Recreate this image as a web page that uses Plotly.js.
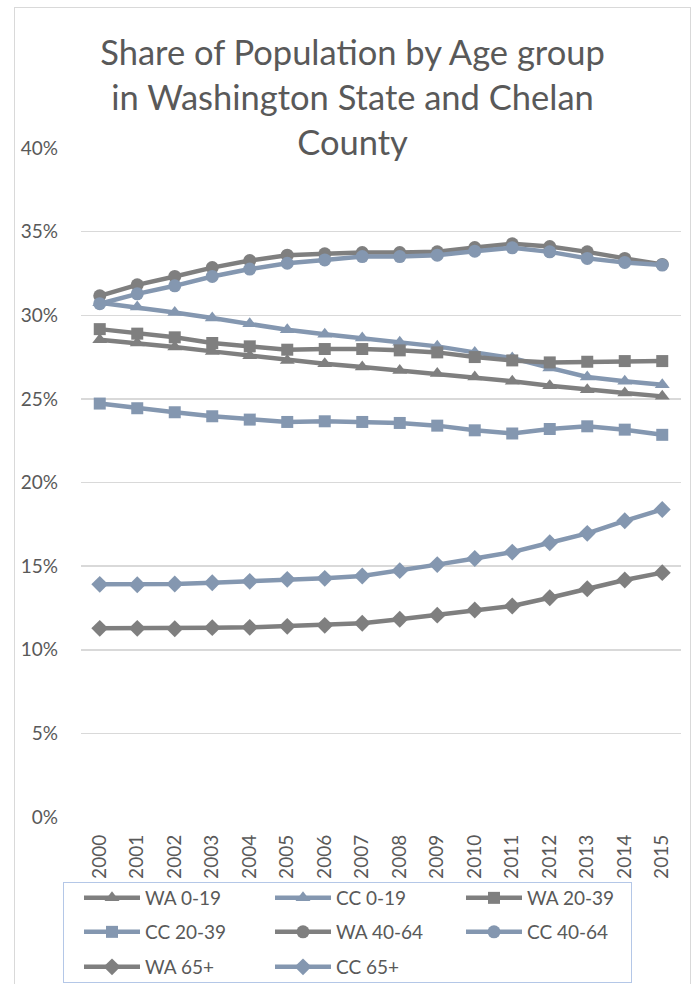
<!DOCTYPE html>
<html>
<head>
<meta charset="utf-8">
<script src="https://cdn.plot.ly/plotly-3.0.1.min.js"></script>
<style>
  html, body { margin: 0; padding: 0; background: #fff; }
  #wrap { position: relative; width: 694px; height: 984px; overflow: hidden; }
  #chart { width: 694px; height: 984px; }
  #frame { position: absolute; left: 14px; top: 7px; width: 677px; height: 1000px;
           border: 1.5px solid #d9d9d9; pointer-events: none; box-sizing: border-box; }
  #legbox { position: absolute; left: 63px; top: 882px; width: 569px; height: 101px;
           border: 1.5px solid #b4c7e7; pointer-events: none; box-sizing: border-box; }
</style>
</head>
<body>
<div id="wrap">
  <div id="chart"></div>
  <div id="frame"></div>
  <div id="legbox"></div>
</div>
<script>
const years = ['2000','2001','2002','2003','2004','2005','2006','2007','2008','2009','2010','2011','2012','2013','2014','2015'];

const wa0_19  = [0.2854,0.2834,0.2810,0.2784,0.2758,0.2730,0.2710,0.2690,0.2670,0.2651,0.2631,0.2605,0.2579,0.2555,0.2535,0.2515];
const cc0_19  = [0.3075,0.3049,0.3017,0.2983,0.2949,0.2913,0.2887,0.2864,0.2838,0.2814,0.2778,0.2744,0.2685,0.2631,0.2605,0.2585];
const wa20_39 = [0.2917,0.2890,0.2868,0.2834,0.2814,0.2794,0.2798,0.2798,0.2790,0.2778,0.2750,0.2730,0.2718,0.2722,0.2726,0.2726];
const cc20_39 = [0.2472,0.2444,0.2420,0.2396,0.2376,0.2362,0.2366,0.2362,0.2356,0.2340,0.2312,0.2293,0.2320,0.2336,0.2316,0.2285];
const wa40_64 = [0.3116,0.3182,0.3232,0.3285,0.3327,0.3359,0.3367,0.3375,0.3375,0.3379,0.3405,0.3427,0.3411,0.3379,0.3340,0.3304];
const cc40_64 = [0.3069,0.3128,0.3176,0.3232,0.3276,0.3311,0.3331,0.3351,0.3351,0.3359,0.3383,0.3403,0.3379,0.3340,0.3316,0.3300];
const wa65    = [0.1128,0.1128,0.1126,0.1132,0.1134,0.1140,0.1146,0.1158,0.1182,0.1207,0.1238,0.1262,0.1311,0.1365,0.1417,0.1461];
const cc65    = [0.1391,0.1389,0.1393,0.1401,0.1409,0.1421,0.1427,0.1441,0.1473,0.1509,0.1546,0.1584,0.1640,0.1696,0.1771,0.1839];

const yTicks = [0,0.05,0.10,0.15,0.20,0.25,0.30,0.35,0.40];
const yTickText = ['0%','5%','10%','15%','20%','25%','30%','35%','40%'];

const DARK = '#7f7f7f';
const LIGHT = '#8497b0';
const FONT = 'Lato, "Open Sans", sans-serif';

function tr(name, y, color, symbol, size, leg) {
  return {
    type: 'scatter', mode: 'lines+markers', name: name,
    x: years, y: y, legend: leg,
    line: { color: color, width: 4.5 },
    marker: { color: color, symbol: symbol, size: size, line: { width: 0 } },
    hoverinfo: 'skip'
  };
}

const data = [
  tr('WA 0-19', wa0_19, DARK, 'triangle-up', 13, 'legend'),
  tr('CC 0-19', cc0_19, LIGHT, 'triangle-up', 13, 'legend'),
  tr('WA 20-39', wa20_39, DARK, 'square', 12, 'legend'),
  tr('CC 20-39', cc20_39, LIGHT, 'square', 12, 'legend2'),
  tr('WA 40-64', wa40_64, DARK, 'circle', 13, 'legend2'),
  tr('CC 40-64', cc40_64, LIGHT, 'circle', 13, 'legend2'),
  tr('WA 65+', wa65, DARK, 'diamond', 13, 'legend3'),
  tr('CC 65+', cc65, LIGHT, 'diamond', 13, 'legend3')
];

const PL = 81, PW = 600, PB = 817, PH = 669;
function legendAt(rowY) {
  return {
    orientation: 'h', traceorder: 'normal',
    x: (79 - PL) / PW, xanchor: 'left',
    y: (PB - rowY) / PH, yanchor: 'middle',
    bgcolor: 'rgba(0,0,0,0)', borderwidth: 0,
    font: { family: FONT, size: 19, color: '#595959' },
    itemwidth: 56, entrywidth: 120, entrywidthmode: 'pixels'
  };
}

const layout = {
  width: 694, height: 984,
  margin: { l: PL, r: 694 - PL - PW, t: 148, b: 984 - PB, pad: 0, autoexpand: false },
  paper_bgcolor: '#ffffff', plot_bgcolor: '#ffffff',
  font: { family: FONT, color: '#595959', size: 19 },
  title: {
    text: 'Share of Population by Age group<br>in Washington State and Chelan<br>County',
    font: { family: FONT, size: 34.5, color: '#595959' },
    xref: 'container', x: 0.508, xanchor: 'center',
    yref: 'container', y: 1 - 65/984, yanchor: 'top'
  },
  xaxis: {
    type: 'category', range: [-0.5, 15.5],
    tickangle: -90, ticks: '', showgrid: false, zeroline: false,
    showline: false, ticklabelstandoff: 13,
    tickfont: { family: FONT, size: 19, color: '#595959' },
    fixedrange: true
  },
  yaxis: {
    range: [0, 0.40], tickvals: yTicks, ticktext: yTickText,
    showgrid: true, gridcolor: '#d9d9d9', gridwidth: 1.5,
    zeroline: false, showline: false, ticks: '', ticklabelstandoff: 22,
    tickfont: { family: FONT, size: 19, color: '#595959' },
    fixedrange: true
  },
  showlegend: true,
  legend: legendAt(898),
  legend2: legendAt(932),
  legend3: legendAt(967)
};

Plotly.newPlot('chart', data, layout, { displayModeBar: false, staticPlot: true });
</script>
</body>
</html>
